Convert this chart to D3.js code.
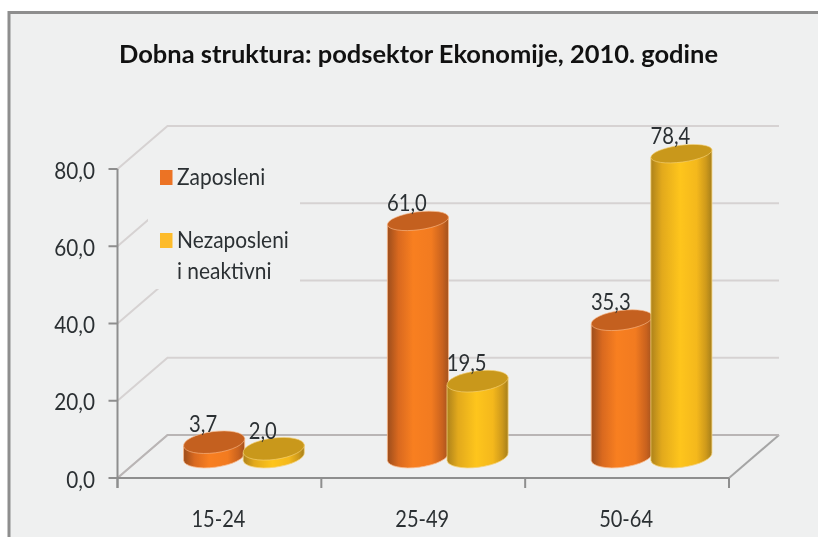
<!DOCTYPE html>
<html><head><meta charset="utf-8">
<script src="https://cdn.jsdelivr.net/npm/d3@7"></script>
<style>html,body{margin:0;padding:0;background:#fff}svg{display:block;filter:blur(0.4px)}text{font-family:Lato,"Open Sans",sans-serif;fill:#2b3033}</style>
</head><body><svg id="c" width="818" height="537"></svg>
<script>
const titleText = "Dobna struktura: podsektor Ekonomije, 2010. godine";
const categories = ["15-24","25-49","50-64"];
const seriesNames = ["Zaposleni","Nezaposleni"];
const zaposleni = [3.7,61.0,35.3];
const nezaposleni = [2.0,19.5,78.4];
const yTicks = [0,20,40,60,80];
const fmt = v => v.toFixed(1).replace(".", ",");

const svg = d3.select("#c");
const W=818,H=537, x0=117.5, x1=729, yB=478, yT=169, dX=50, dY=-43;
const bg="#eff0f0", gridC="#d6d2d2", axisC="#8e8e8e";

const defs = svg.append("defs");
function grad(id, stops){
  const g=defs.append("linearGradient").attr("id",id);
  stops.forEach(([o,c])=>g.append("stop").attr("offset",o).attr("stop-color",c));
}
grad("gO",[[0,"#9c4d1c"],[.18,"#d9691f"],[.42,"#f87f20"],[.72,"#f27b20"],[.9,"#c9621e"],[1,"#a3521d"]]);
grad("gY",[[0,"#ad821b"],[.18,"#e2a91c"],[.48,"#fec51c"],[.75,"#f4b81c"],[.9,"#cf9a1b"],[1,"#a67f1a"]]);

svg.append("rect").attr("x",9).attr("y",12.5).attr("width",900).attr("height",900).attr("fill",bg).attr("stroke","#8e8e8e").attr("stroke-width",3);

const y = d3.scaleLinear().domain([0,80]).range([yB,yT]);
const x = d3.scaleBand().domain(categories).range([x0,x1]);
const sub = d3.scaleBand().domain(seriesNames).range([0,x.bandwidth()*0.585]);

const stretched = (sel,px,py,size,sx,anchor,str) => sel.append("text")
  .attr("transform",`translate(${px},${py}) scale(${sx},1)`)
  .attr("text-anchor",anchor).attr("font-size",size).text(str);

// back wall and side wall gridlines
const grid = svg.append("g").attr("fill","none").attr("stroke",gridC).attr("stroke-width",2);
yTicks.forEach(t=>{
  const p=y(t);
  grid.append("path").attr("d",`M${x0},${p}L${x0+dX},${p+dY}L${x1+dX},${p+dY}`);
});
grid.append("path").attr("d",`M${x1},${yB}L${x1+dX},${yB+dY}`).attr("stroke","#a5a5a5");
svg.append("path").attr("d",`M${x0},${yB}L${x0+dX},${yB+dY}L${x1+dX},${yB+dY}`).attr("fill","none").attr("stroke","#b9b5b5").attr("stroke-width",2);

// legend background hides parts of the wall
svg.append("rect").attr("x",148).attr("y",150).attr("width",152).attr("height",139).attr("fill",bg);

// axes
const axes = svg.append("g").attr("fill","none").attr("stroke",axisC).attr("stroke-width",2);
axes.append("path").attr("d",`M${x0},${yT}V${yB+10}`);
axes.append("path").attr("d",`M${x0},${yB}H${x1}`);
yTicks.forEach(t=>axes.append("path").attr("d",`M${x0-9},${y(t)}H${x0}`));
[...categories.map(c=>x(c)),x1].forEach(v=>axes.append("path").attr("d",`M${v},${yB}V${yB+10}`));

const tickG=svg.append("g");
yTicks.forEach(t=>stretched(tickG,95,y(t)+9.5,23,.9,"end",fmt(t)));
const catG=svg.append("g");
categories.forEach(c=>stretched(catG,x(c)+x.bandwidth()/2-1,527,22.5,.89,"middle",c));

// cylinders
const tilt=7.4*Math.PI/180, deg=-7.4, rx=30.8, depthLift=21.5;
const ryAt = py => 8.4 + 2.4*(py-150)/310;
function drawCyl(g, cx, v, gradId, topC, edge){
  const top=y(v)-depthLift, base=y(0)-depthLift;
  const ux=rx*Math.cos(tilt), uy=rx*Math.sin(tilt);
  const ryT=ryAt(top), ryB=ryAt(base);
  g.append("path").attr("d",
    `M${cx-ux},${top+uy}L${cx-ux},${base+uy}`+
    `A${rx},${ryB} ${deg} 0 0 ${cx+ux},${base-uy}`+
    `L${cx+ux},${top-uy}Z`)
    .attr("fill",`url(#${gradId})`).attr("stroke",edge).attr("stroke-width",.8);
  g.append("ellipse").attr("cx",cx).attr("cy",top).attr("rx",rx).attr("ry",ryT)
    .attr("transform",`rotate(${deg} ${cx} ${top})`).attr("fill",topC).attr("stroke",edge).attr("stroke-width",.6);
}
const marks=svg.append("g");
const labs=[];
categories.forEach((c,i)=>{
  const center=x(c)+x.bandwidth()/2+dX/2-0.5;
  const left=center-sub.bandwidth();
  const cO=left+sub("Zaposleni")+sub.bandwidth()/2, cY=left+sub("Nezaposleni")+sub.bandwidth()/2;
  drawCyl(marks,cO,zaposleni[i],"gO","#c4601f","#f9b98a");
  drawCyl(marks,cY,nezaposleni[i],"gY","#c9981b","#f5d27a");
  labs.push([cO,zaposleni[i]],[cY,nezaposleni[i]]);
});
const labG=svg.append("g");
labs.forEach(([cx,v])=>stretched(labG,cx-11,y(v)-depthLift-10,22.5,.9,"middle",fmt(v)));

// legend
svg.append("rect").attr("x",160).attr("y",170).attr("width",12.5).attr("height",15).attr("fill","#ec7324");
svg.append("rect").attr("x",160).attr("y",233).attr("width",12.5).attr("height",15).attr("fill","#fdbb2a");
const legG=svg.append("g");
stretched(legG,177,185,23,.91,"start","Zaposleni");
stretched(legG,177,248,23,.91,"start","Nezaposleni");
stretched(legG,177,279,23,.91,"start","i neaktivni");

// title
svg.append("text").attr("x",119).attr("y",62.5).attr("font-size",25).attr("font-weight",700)
  .style("fill","#111").attr("textLength",599).attr("lengthAdjust","spacingAndGlyphs").text(titleText);
</script></body></html>
